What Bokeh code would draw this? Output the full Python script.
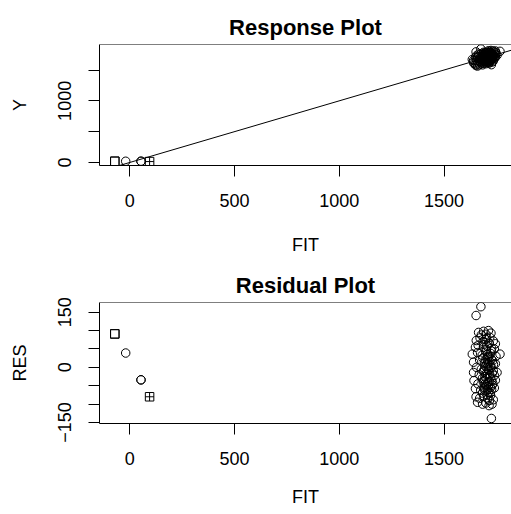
from bokeh.plotting import figure
from bokeh.models import Range1d, FixedTicker, Span, Slope, ColumnDataSource
from bokeh.layouts import column
from bokeh.embed import file_html
from bokeh.resources import INLINE

# ---- data ----
fit_small = [-71, -71, -19, 54, 54, 95]
res_small = [91, 91, 39, -34, -34, -80]
shape_small = ["square", "square", "circle", "circle", "circle", "square_cross"]

fit_cluster = [
    1665, 1689, 1724, 1700, 1678, 1712,
    1654, 1672, 1697, 1718, 1735, 1686,
    1650, 1745, 1663, 1705, 1727, 1690, 1740, 1715,
    1635, 1767, 1660, 1682, 1700, 1722, 1748, 1710,
    1641, 1670, 1693, 1705, 1718, 1732, 1685, 1745,
    1655, 1678, 1698, 1712, 1725, 1753, 1690, 1735, 1705,
    1641, 1668, 1695, 1708, 1720, 1740, 1683, 1730,
    1643, 1662, 1688, 1702, 1716, 1733, 1745, 1710,
    1650, 1675, 1693, 1712, 1727, 1700, 1740,
    1653, 1670, 1690, 1708, 1722, 1735,
    1660, 1684, 1729, 1700, 1715,
    1676, 1653, 1726,
    1700, 1712, 1705, 1718, 1695, 1722, 1708, 1715, 1690, 1728,
    1702, 1720, 1697, 1711, 1725, 1688, 1706, 1716, 1730, 1694,
    1713, 1699, 1721, 1707, 1726, 1691, 1717, 1703, 1684, 1736,
]
res_cluster = [
    95, 98, 93, 90, 88, 100,
    73, 80, 76, 82, 72, 70,
    55, 64, 60, 58, 52, 62, 50, 66,
    36, 36, 40, 33, 44, 38, 30, 28,
    14, 20, 12, 22, 15, 18, 25, 10,
    0, -5, 3, -8, 0, -14, -12, -10, -2,
    -14, -20, -25, -18, -28, -22, -30, -16,
    -36, -45, -40, -48, -38, -44, -35, -42,
    -58, -62, -55, -68, -60, -65, -56,
    -80, -84, -78, -86, -76, -88,
    -95, -100, -100, -97, -104,
    165, 141, -139,
    -30, -50, 10, -20, -45, 5, -60, 30, -8, -35,
    48, -70, 20, -5, 45, 55, -75, 65, -48, -62,
    12, -18, -55, 35, 22, -36, -90, 80, -70, 8,
]

x_ticks = [0, 500, 1000, 1500]
y_ticks_top = [0, 500, 1000, 1500]
y_labels_top = {500: "", 1500: ""}
y_ticks_res = [-150, -100, -50, 0, 50, 100, 150]
y_labels_res = {-150: "\u2212150", -100: "", -50: "", 50: "", 100: ""}

identity_slope = 1
identity_intercept = 0

x_lim = (-144, 1822)
y_lim_top = (-48.8, 1914)
y_lim_res = (-152.7, 176.4)

# derived: response Y = FIT + RES
y_small = [f + r for f, r in zip(fit_small, res_small)]
y_cluster = [f + r for f, r in zip(fit_cluster, res_cluster)]

FONT = "Liberation Sans"


def style(p, xlab, ylab, yticks, yover, xlab_standoff):
    p.outline_line_color = None
    p.xgrid.grid_line_color = None
    p.ygrid.grid_line_color = None
    p.background_fill_color = "white"
    p.border_fill_color = "white"
    p.title.text_font = FONT
    p.title.text_font_size = "22px"
    p.title.text_font_style = "bold"
    p.title.text_color = "black"
    p.title.align = "center"
    p.title.offset = 1
    p.title.standoff = 10
    for ax in (p.xaxis[0], p.yaxis[0]):
        ax.axis_line_color = "black"
        ax.major_tick_line_color = "black"
        ax.minor_tick_line_color = None
        ax.major_tick_out = 11
        ax.major_tick_in = 0
        ax.major_label_text_font = FONT
        ax.major_label_text_font_size = "18px"
        ax.major_label_text_color = "black"
        ax.axis_label_text_font = FONT
        ax.axis_label_text_font_size = "18px"
        ax.axis_label_text_font_style = "normal"
        ax.axis_label_text_color = "black"
    p.xaxis[0].ticker = FixedTicker(ticks=x_ticks)
    p.xaxis[0].axis_label = xlab
    p.xaxis[0].major_label_standoff = 17
    p.xaxis[0].axis_label_standoff = xlab_standoff
    p.yaxis[0].ticker = FixedTicker(ticks=yticks)
    p.yaxis[0].major_label_overrides = yover
    p.yaxis[0].major_label_orientation = "vertical"
    p.yaxis[0].axis_label = ylab
    p.yaxis[0].major_label_standoff = 17
    p.yaxis[0].axis_label_standoff = 26
    p.add_layout(Span(location=p.y_range.end, dimension="width",
                      line_color="black", line_width=1))


# ---- Response plot ----
p1 = figure(width=511, height=257, output_backend="svg", toolbar_location=None,
            x_range=Range1d(*x_lim), y_range=Range1d(*y_lim_top),
            title="Response Plot",
            min_border_left=99, min_border_right=0, min_border_top=44,
            min_border_bottom=92)
style(p1, "FIT", "Y", y_ticks_top, y_labels_top, 25)
p1.add_layout(Slope(gradient=identity_slope, y_intercept=identity_intercept,
                    line_color="black", line_width=1))
src1s = ColumnDataSource(dict(x=fit_small, y=y_small, m=shape_small))
p1.scatter("x", "y", source=src1s, marker="m", size=8.5, fill_color=None,
           line_color="black", line_width=1)
p1.scatter(fit_cluster, y_cluster, marker="circle", size=8.5, fill_color=None,
           line_color="black", line_width=1)

# ---- Residual plot ----
p2 = figure(width=511, height=257, output_backend="svg", toolbar_location=None,
            x_range=Range1d(*x_lim), y_range=Range1d(*y_lim_res),
            title="Residual Plot",
            min_border_left=99, min_border_right=0, min_border_top=45,
            min_border_bottom=91)
style(p2, "FIT", "RES", y_ticks_res, y_labels_res, 19)
src2s = ColumnDataSource(dict(x=fit_small, y=res_small, m=shape_small))
p2.scatter("x", "y", source=src2s, marker="m", size=8.5, fill_color=None,
           line_color="black", line_width=1)
p2.scatter(fit_cluster, res_cluster, marker="circle", size=8.5, fill_color=None,
           line_color="black", line_width=1)

layout = column(p1, p2, spacing=0)
open("out.html", "w").write(file_html(layout, INLINE))
